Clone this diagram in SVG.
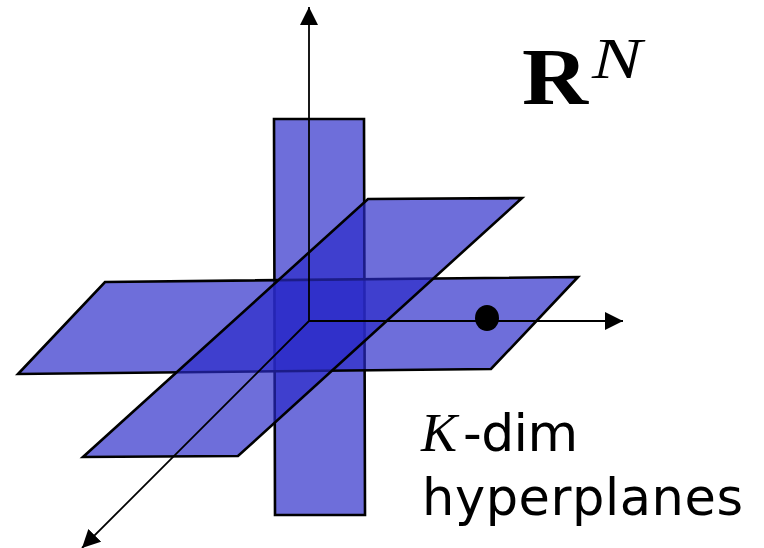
<svg xmlns="http://www.w3.org/2000/svg" width="764" height="548" viewBox="0 0 764 548">
  <style>
    .plane { fill: #2a2ac8; fill-opacity: 0.68; stroke: #000; stroke-width: 2.6; stroke-linejoin: miter; }
    .axis { stroke: #000; stroke-width: 1.8; fill: none; }
    .sans { font-family: "DejaVu Sans", sans-serif; fill: #000; }
    .serif { font-family: "Liberation Serif", "DejaVu Serif", serif; fill: #000; }
  </style>
  <defs>
    <marker id="arrow" markerUnits="userSpaceOnUse" markerWidth="22" markerHeight="22" refX="18" refY="9" orient="auto" viewBox="0 0 22 22">
      <path d="M0,0 L18,9 L0,18 Z" fill="#000"/>
    </marker>
  </defs>
  <rect width="764" height="548" fill="#fff"/>

  <g id="plane-vertical">
    <polygon class="plane" points="274,119 364,119 365,515 275,515"/>
  </g>
  <g id="plane-horizontal">
    <polygon class="plane" points="105,282 578,277 491,369 18,374"/>
  </g>
  <g id="plane-diagonal">
    <polygon class="plane" points="368,199 522,198 238,456 83,457"/>
  </g>

  <g id="connectors">
    <line class="axis" x1="309" y1="321" x2="309" y2="7" marker-end="url(#arrow)"/>
    <line class="axis" x1="309" y1="321" x2="623" y2="321" marker-end="url(#arrow)"/>
    <line class="axis" x1="309" y1="321" x2="82" y2="548" marker-end="url(#arrow)"/>
  </g>

  <g id="point">
    <ellipse cx="487" cy="318" rx="12" ry="13" fill="#000"/>
  </g>

  <g id="label-space">
    <text class="serif" x="522" y="104" font-size="80" font-weight="bold" textLength="66" lengthAdjust="spacingAndGlyphs">R</text>
    <text class="serif" x="592" y="78" font-size="57" font-style="italic" textLength="50" lengthAdjust="spacingAndGlyphs">N</text>
  </g>

  <g id="label-hyperplanes">
    <text x="421" y="451" font-size="52"><tspan class="serif" font-style="italic" font-size="54">K</tspan><tspan class="sans" dx="6" textLength="115">-dim</tspan></text>
    <text class="sans" x="422" y="515" font-size="51" textLength="321">hyperplanes</text>
  </g>
</svg>
